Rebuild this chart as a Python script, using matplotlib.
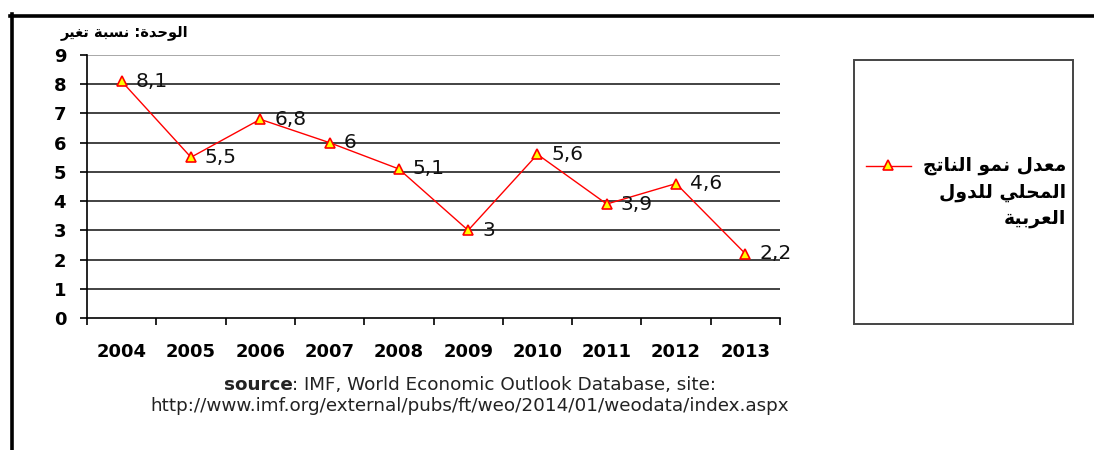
import matplotlib
matplotlib.use("Agg")
import matplotlib.pyplot as plt
import numpy as np
from matplotlib.lines import Line2D
from matplotlib.patches import Rectangle

years = ["2004", "2005", "2006", "2007", "2008", "2009", "2010", "2011", "2012", "2013"]
growth = [8.1, 5.5, 6.8, 6.0, 5.1, 3.0, 5.6, 3.9, 4.6, 2.2]
y_ticks = [0, 1, 2, 3, 4, 5, 6, 7, 8, 9]
legend_lines = ["معدل نمو الناتج", "المحلي للدول", "العربية"]
unit_label = "الوحدة: نسبة تغير"
source_word = "source"
source_line1 = ": IMF, World Economic Outlook Database, site:"
source_line2 = "http://www.imf.org/external/pubs/ft/weo/2014/01/weodata/index.aspx"

# arabic presentation forms: isolated, final, initial, medial
FORMS = {
    "ا": ("\uFE8D", "\uFE8E", None, None),
    "ب": ("\uFE8F", "\uFE90", "\uFE91", "\uFE92"),
    "ة": ("\uFE93", "\uFE94", None, None),
    "ت": ("\uFE95", "\uFE96", "\uFE97", "\uFE98"),
    "ج": ("\uFE9D", "\uFE9E", "\uFE9F", "\uFEA0"),
    "ح": ("\uFEA1", "\uFEA2", "\uFEA3", "\uFEA4"),
    "د": ("\uFEA9", "\uFEAA", None, None),
    "ر": ("\uFEAD", "\uFEAE", None, None),
    "س": ("\uFEB1", "\uFEB2", "\uFEB3", "\uFEB4"),
    "ع": ("\uFEC9", "\uFECA", "\uFECB", "\uFECC"),
    "غ": ("\uFECD", "\uFECE", "\uFECF", "\uFED0"),
    "ل": ("\uFEDD", "\uFEDE", "\uFEDF", "\uFEE0"),
    "م": ("\uFEE1", "\uFEE2", "\uFEE3", "\uFEE4"),
    "ن": ("\uFEE5", "\uFEE6", "\uFEE7", "\uFEE8"),
    "و": ("\uFEED", "\uFEEE", None, None),
    "ي": ("\uFEF1", "\uFEF2", "\uFEF3", "\uFEF4"),
}


def shape_arabic(text):
    out = []
    for i, ch in enumerate(text):
        if ch not in FORMS:
            out.append(ch)
            continue
        prev = text[i - 1] if i > 0 else ""
        nxt = text[i + 1] if i + 1 < len(text) else ""
        joins_prev = prev in FORMS and FORMS[prev][2] is not None
        joins_next = nxt in FORMS and FORMS[ch][2] is not None
        iso, fin, ini, med = FORMS[ch]
        if joins_prev and joins_next:
            out.append(med)
        elif joins_prev:
            out.append(fin)
        elif joins_next:
            out.append(ini)
        else:
            out.append(iso)
    return "".join(out)[::-1]


W, H = 1094, 450
fig = plt.figure(figsize=(W / 100, H / 100), dpi=100)
ax = fig.add_axes([87 / W, 1 - 318 / H, (780 - 87) / W, (318 - 55) / H])

x = np.arange(len(years))
for y in y_ticks[1:-1]:
    ax.axhline(y, color="#222222", lw=1.2, zorder=0)
ax.axhline(y_ticks[-1], color="#999999", lw=1.2, zorder=0)

ax.plot(x, growth, color="red", lw=1, marker="^", ms=7.5,
        mfc="#ffff00", mec="red", mew=1.2, zorder=3)

for xi, v in zip(x, growth):
    ax.annotate(f"{v:g}".replace(".", ","), (xi, v), xytext=(10, 0),
                textcoords="offset points", va="center", ha="left",
                fontsize=14.5, color="#111111")

ax.set_xlim(-0.5, len(years) - 0.5)
ax.set_ylim(0, 9)
ax.set_yticks(y_ticks)
ax.set_yticklabels([str(t) for t in y_ticks], fontweight="bold", fontsize=13)
ax.set_xticks(x)
ax.set_xticklabels(years, fontweight="bold", fontsize=13)
ax.set_xticks(np.arange(-0.5, len(years), 1), minor=True)
ax.tick_params(axis="x", which="major", length=0, pad=18)
ax.tick_params(axis="x", which="minor", length=5, width=1.2, direction="out")
ax.tick_params(axis="y", length=5, width=1.2, direction="out", pad=10)
for s in ["top", "right"]:
    ax.spines[s].set_visible(False)
for s in ["left", "bottom"]:
    ax.spines[s].set_linewidth(1.2)
    ax.spines[s].set_color("black")

# unit label
fig.text(188 / W, 1 - 32 / H, shape_arabic(unit_label), ha="right", va="center",
         fontsize=10.5, fontweight="bold", family="DejaVu Sans")

# legend box
fig.add_artist(Rectangle((854 / W, 1 - 324 / H), (1073 - 854) / W, (324 - 60) / H,
                         transform=fig.transFigure, fill=False, ec="#444444", lw=1.4))
fig.add_artist(Line2D([866 / W, 911 / W], [1 - 166 / H] * 2, color="red", lw=1,
                      transform=fig.transFigure))
fig.add_artist(Line2D([888 / W], [1 - 165 / H], marker="^", ms=7.5, mfc="#ffff00",
                      mec="red", mew=1.2, transform=fig.transFigure))
for i, line in enumerate(legend_lines):
    fig.text(1066 / W, 1 - (166 + 26 * i) / H, shape_arabic(line), ha="right",
             va="center", fontsize=13.5, fontweight="bold", family="DejaVu Sans")

# source, first line centred as a whole
renderer = fig.canvas.get_renderer()
t_bold = fig.text(0, 1 - 385 / H, source_word, ha="left", va="center",
                  fontsize=13.2, fontweight="bold", color="#222222")
t_rest = fig.text(0, 1 - 385 / H, source_line1, ha="left", va="center",
                  fontsize=13.2, color="#222222")
w_bold = t_bold.get_window_extent(renderer).width
w_rest = t_rest.get_window_extent(renderer).width
x0 = 470 - (w_bold + w_rest) / 2
t_bold.set_x(x0 / W)
t_rest.set_x((x0 + w_bold) / W)
fig.text(470 / W, 1 - 406 / H, source_line2, ha="center", va="center",
         fontsize=13.2, color="#222222")

# outer frame
fig.add_artist(Line2D([10 / W, 1], [1 - 15.5 / H] * 2, color="black", lw=2.6,
                      transform=fig.transFigure))
fig.add_artist(Line2D([12 / W, 12 / W], [0, 1 - 14 / H], color="black", lw=2.6,
                      transform=fig.transFigure))

fig.savefig("out.png", dpi=100)
